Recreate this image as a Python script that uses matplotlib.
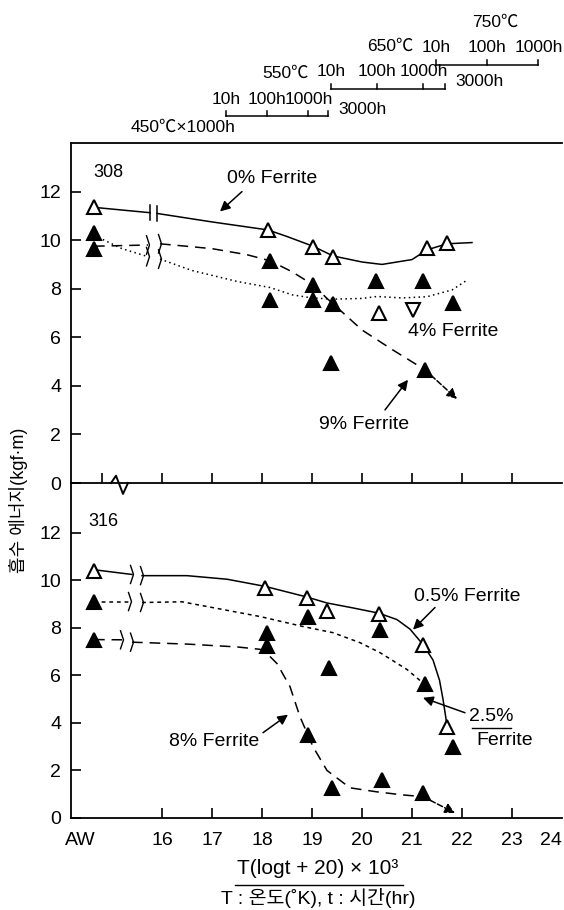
import numpy as np
import matplotlib
matplotlib.use("Agg")
import matplotlib.pyplot as plt
from matplotlib import font_manager
from matplotlib.transforms import blended_transform_factory, ScaledTranslation

_names = {f.name for f in font_manager.fontManager.ttflist}
LATIN = 'Liberation Sans Narrow' if 'Liberation Sans Narrow' in _names else 'Liberation Sans'
plt.rcParams['font.family'] = [LATIN, 'Noto Sans CJK KR', 'DejaVu Sans']

# ---------------------------------------------------------------- data
AW = 14.64                      # as-welded position on the LMP axis
x_ticks = [16, 17, 18, 19, 20, 21, 22, 23, 24]
y_ticks = [0, 2, 4, 6, 8, 10, 12]

# 308 weld metal
s308_f0_x = [AW, 18.12, 19.02, 19.42, 21.30, 21.70]
s308_f0_y = [11.35, 10.40, 9.73, 9.32, 9.69, 9.90]
s308_f0_cx = [AW, 15.76, 15.90, 17.0, 18.12, 18.5, 19.02, 19.42, 20.0, 20.4, 21.0, 21.3, 21.7, 22.2]
s308_f0_cy = [11.35, 11.13, 11.10, 10.75, 10.42, 10.15, 9.75, 9.35, 9.10, 9.00, 9.20, 9.60, 9.85, 9.90]
s308_f0_brk = (15.76, 15.90)

s308_f4_x = [AW, 18.16, 19.02, 20.28, 21.22, 21.82]
s308_f4_y = [10.30, 7.55, 7.55, 8.30, 8.30, 7.42]
s308_f4_open_x = [20.34]
s308_f4_open_y = [7.00]
s308_f4_inv_x = [21.02]
s308_f4_inv_y = [7.13]
s308_f4_cx = [AW, 15.2, 15.72, 15.96, 16.6, 17.5, 18.16, 18.6, 19.0, 19.42, 20.0, 20.3, 20.8, 21.3, 21.8, 22.1]
s308_f4_cy = [10.20, 9.65, 9.32, 9.22, 8.75, 8.30, 8.05, 7.75, 7.62, 7.57, 7.60, 7.68, 7.62, 7.67, 7.95, 8.35]
s308_f4_brk = (15.72, 15.96)

s308_f9_x = [AW, 18.16, 19.02, 19.42, 19.38, 21.26]
s308_f9_y = [9.65, 9.15, 8.16, 7.38, 4.95, 4.66]
s308_f9_cx = [AW, 15.72, 15.96, 17.0, 17.7, 18.16, 18.6, 19.02, 19.3, 19.42, 20.0, 20.6, 21.26]
s308_f9_cy = [9.75, 9.80, 9.85, 9.65, 9.40, 9.15, 8.70, 8.16, 7.60, 7.38, 6.30, 5.50, 4.66]
s308_f9_end = (21.90, 3.46)
s308_f9_brk = (15.72, 15.96)

# 316 weld metal
s316_f05_x = [AW, 18.06, 18.90, 19.30, 20.34, 21.22, 21.70]
s316_f05_y = [10.40, 9.70, 9.28, 8.73, 8.57, 7.30, 3.85]
s316_f05_cx = [AW, 15.40, 15.60, 16.5, 17.3, 18.06, 18.9, 19.3, 19.8, 20.34, 20.7, 20.96, 21.22, 21.42, 21.55, 21.62, 21.70]
s316_f05_cy = [10.45, 10.25, 10.20, 10.20, 10.05, 9.75, 9.30, 9.05, 8.85, 8.62, 8.35, 7.95, 7.30, 6.65, 5.80, 5.00, 3.90]
s316_f05_brk = (15.40, 15.60)

s316_f25_x = [AW, 18.10, 18.92, 20.36, 21.26, 21.82]
s316_f25_y = [9.11, 7.80, 8.48, 7.93, 5.65, 3.00]
s316_f25_cx = [AW, 15.36, 15.60, 16.4, 17.96, 18.82, 19.42, 19.96, 20.36, 20.9, 21.26]
s316_f25_cy = [9.11, 9.11, 9.07, 9.10, 8.48, 8.06, 7.80, 7.38, 6.96, 6.25, 5.61]
s316_f25_brk = (15.36, 15.60)

s316_f8_x = [AW, 18.10, 18.92, 19.34, 19.40, 20.40, 21.22]
s316_f8_y = [7.51, 7.22, 3.50, 6.33, 1.27, 1.60, 1.05]
s316_f8_cx = [AW, 15.20, 15.40, 16.5, 17.5, 17.96, 18.12, 18.3, 18.56, 18.76, 19.02, 19.3, 19.76, 20.3, 20.82, 21.22]
s316_f8_cy = [7.51, 7.50, 7.40, 7.32, 7.20, 7.10, 6.88, 6.50, 5.53, 4.26, 3.00, 2.00, 1.27, 1.10, 0.97, 0.90]
s316_f8_end = (21.86, 0.21)
s316_f8_brk = (15.20, 15.40)

# ageing conditions shown above the plot (temperature in degC, hours)
scale_temps = [550, 650, 750]
scale_hours = {550: [10, 100, 1000, 3000], 650: [10, 100, 1000, 3000], 750: [10, 100, 1000]}

# ---------------------------------------------------------------- figure
W, H = 564, 910
fig = plt.figure(figsize=(W / 100, H / 100), dpi=100, facecolor='white')


def fy(py):
    return 1 - py / H


L, R = 71 / W, 562 / W
ax1 = fig.add_axes([L, fy(483), R - L, (483 - 143) / H])
ax2 = fig.add_axes([L, fy(818), R - L, (818 - 483) / H])
ax1.set_zorder(2)
for ax in (ax1, ax2):
    ax.patch.set_visible(False)

LW = 1.1
SOLID = '-'
DOTTED = (0, (1.0, 2.2))
DASHED = (0, (7, 4.5))
SHORTDASH = (0, (2.5, 2.5))
FS = 14

for ax, ytop in ((ax1, 14.0), (ax2, 14.1)):
    ax.set_xlim(14.18, 24.0)
    ax.set_ylim(0, ytop)
    ax.set_yticks(y_ticks)
    ax.spines['right'].set_visible(False)
    for s in ax.spines.values():
        s.set_linewidth(1.3)
    ax.tick_params(direction='in', length=7, width=1.2, labelsize=14, pad=7)
ax2.spines['top'].set_visible(False)

ax1.set_xticks([14.8] + x_ticks[:-1])
ax1.tick_params(axis='x', labelbottom=False)
ax2.set_xticks([14.36] + x_ticks)
ax2.set_xticklabels(['AW'] + [str(v) for v in x_ticks])
ax2.tick_params(axis='x', pad=10)
ax2.xaxis.get_major_ticks()[0].tick1line.set_visible(False)
ax2.xaxis.get_major_ticks()[-1].tick1line.set_visible(False)
_lab24 = ax2.get_xticklabels()[-1]
_lab24.set_transform(_lab24.get_transform() + ScaledTranslation(-11 / 100, 0, fig.dpi_scale_trans))


def curve(ax, cx, cy, brk, ls, bar_style='bar'):
    cx = np.asarray(cx)
    cy = np.asarray(cy)
    lo, hi = brk
    a = cx <= lo + 1e-9
    b = cx >= hi - 1e-9
    ax.plot(cx[a], cy[a], color='k', lw=LW, ls=ls, dash_capstyle='butt')
    ax.plot(cx[b], cy[b], color='k', lw=LW, ls=ls, dash_capstyle='butt')
    for xb in (lo, hi):
        yb = np.interp(xb, cx, cy)
        if bar_style == 'bar':
            ax.plot([xb, xb], [yb - 0.32, yb + 0.32], color='k', lw=1.1)
        else:
            ax.plot([xb - 0.03, xb + 0.03, xb - 0.03], [yb - 0.38, yb, yb + 0.38],
                    color='k', lw=1.0)


def marks(ax, x, y, filled=True, marker='^'):
    ax.plot(x, y, ls='none', marker=marker, ms=10,
            mfc='k' if filled else 'white', mec='k', mew=1.5, zorder=5)


def arrow(ax, xy, xytext, ls='-'):
    ax.annotate('', xy=xy, xytext=xytext,
                arrowprops=dict(arrowstyle='-|>', color='k', lw=1.1, ls=ls,
                                mutation_scale=15, shrinkA=0, shrinkB=0))


# ---- 308
curve(ax1, s308_f0_cx, s308_f0_cy, s308_f0_brk, SOLID, 'bar')
curve(ax1, s308_f4_cx, s308_f4_cy, s308_f4_brk, DOTTED, 'curl')
curve(ax1, s308_f9_cx, s308_f9_cy, s308_f9_brk, DASHED, 'curl')
arrow(ax1, s308_f9_end, (s308_f9_cx[-1], s308_f9_cy[-1]), ls='--')
marks(ax1, s308_f0_x, s308_f0_y, filled=False)
marks(ax1, s308_f4_x, s308_f4_y)
marks(ax1, s308_f4_open_x, s308_f4_open_y, filled=False)
marks(ax1, s308_f4_inv_x, s308_f4_inv_y, filled=False, marker='v')
marks(ax1, s308_f9_x, s308_f9_y)

ax1.text(14.92, 12.78, '308', fontsize=13, ha='center', va='center')
ax1.text(18.2, 12.54, '0% Ferrite', fontsize=FS, ha='center', va='center')
arrow(ax1, (17.16, 11.18), (17.6, 12.0))
ax1.text(21.82, 6.23, '4% Ferrite', fontsize=FS, ha='center', va='center')
ax1.text(20.04, 2.39, '9% Ferrite', fontsize=FS, ha='center', va='center')
arrow(ax1, (20.92, 4.25), (20.46, 3.01))

# axis break on the shared border
ax1.plot([14.98, 15.08, 15.22, 15.32], [0.0, 0.3, -0.45, 0.0], color='k', lw=1.4,
         clip_on=False, zorder=6)

# ---- 316
curve(ax2, s316_f05_cx, s316_f05_cy, s316_f05_brk, SOLID, 'curl')
curve(ax2, s316_f25_cx, s316_f25_cy, s316_f25_brk, SHORTDASH, 'curl')
curve(ax2, s316_f8_cx, s316_f8_cy, s316_f8_brk, DASHED, 'curl')
arrow(ax2, s316_f8_end, (s316_f8_cx[-1], s316_f8_cy[-1]), ls='--')
marks(ax2, s316_f05_x, s316_f05_y, filled=False)
marks(ax2, s316_f25_x, s316_f25_y)
marks(ax2, s316_f8_x, s316_f8_y)

ax2.text(14.82, 12.49, '316', fontsize=13, ha='center', va='center')
ax2.text(22.1, 9.32, '0.5% Ferrite', fontsize=FS, ha='center', va='center')
arrow(ax2, (21.02, 7.93), (21.46, 8.86))
ax2.text(22.58, 4.26, '2.5%', fontsize=FS, ha='center', va='center')
ax2.plot([22.2, 22.98], [3.8, 3.8], color='k', lw=1.0)
ax2.text(22.86, 3.25, 'Ferrite', fontsize=FS, ha='center', va='center')
arrow(ax2, (21.22, 5.06), (22.06, 4.43))
ax2.text(17.04, 3.2, '8% Ferrite', fontsize=FS, ha='center', va='center')
arrow(ax2, (18.52, 4.35), (18.02, 3.59))

# ---- labels
fig.text(19 / W, fy(500), '흡수 에너지(kgf·m)', rotation=90, fontsize=13,
         ha='center', va='center')
fig.text(318 / W, fy(869), 'T(logt + 20) × 10³', fontsize=15, ha='center', va='center')
fig.add_artist(plt.Line2D([235 / W, 403 / W], [fy(885), fy(885)], color='k', lw=1.0))
fig.text(318 / W, fy(898), 'T : 온도(˚K), t : 시간(hr)', fontsize=14, ha='center', va='center')

# ---- ageing-condition scales (Larson-Miller parameter)
def lmp(t_c, hours):
    return (t_c + 273) * (np.log10(hours) + 20) / 1000


tr = blended_transform_factory(ax1.transData, fig.transFigure)
line_py = {550: 116, 650: 89, 750: 65}
for T in scale_temps:
    hrs = scale_hours[T]
    pos = [lmp(T, h) for h in hrs]
    py = line_py[T]
    fig.add_artist(plt.Line2D([pos[0], pos[-1]], [fy(py), fy(py)], color='k',
                              lw=1.1, transform=tr))
    for p in pos:
        fig.add_artist(plt.Line2D([p, p], [fy(py), fy(py - 5)], color='k',
                                  lw=1.1, transform=tr))
    for h, p in zip(hrs, pos):
        if h == 3000:
            fig.text(p + 0.2, fy(py - 7), f'{h}h', transform=tr, fontsize=12.5,
                     ha='left', va='center')
        else:
            fig.text(p, fy(py - 17), f'{h}h', transform=tr, fontsize=12.5,
                     ha='center', va='center')
    fig.text(pos[0] + 1.18, fy(py - 43), f'{T}℃', transform=tr, fontsize=12.5,
             ha='center', va='center')

fig.text(lmp(450, 1000) - 0.2, fy(127), '450℃×1000h', transform=tr,
         fontsize=12.5, ha='center', va='center')

fig.savefig('out.png', dpi=100, facecolor='white')
